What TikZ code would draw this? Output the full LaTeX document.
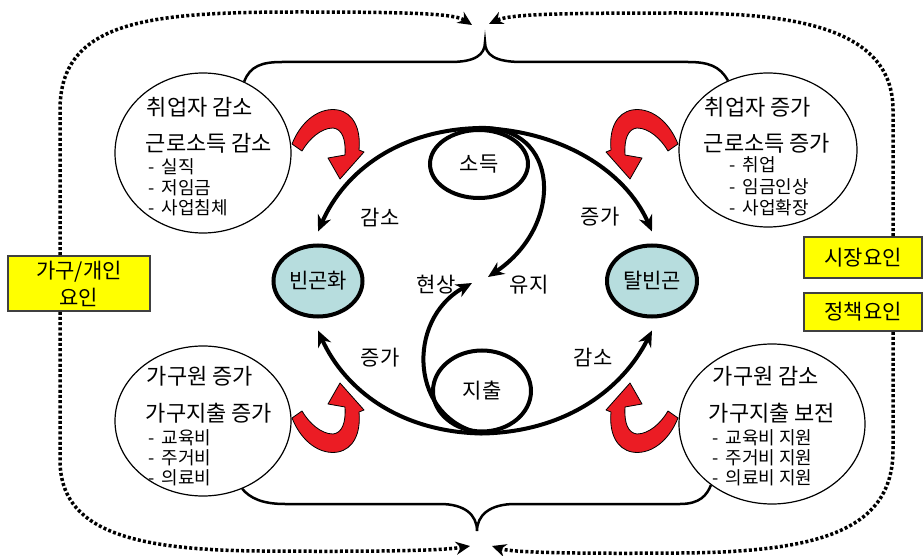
\documentclass[tikz,border=0pt]{standalone}
\usepackage{fontspec}
\usetikzlibrary{arrows.meta,shapes.geometric,calc}
\newfontfamily\kr{Noto Sans CJK KR}
\definecolor{pblue}{RGB}{183,221,222}
\definecolor{hyel}{RGB}{255,255,0}
\definecolor{hred}{RGB}{235,28,36}
\begin{document}
\begin{tikzpicture}[x=1pt,y=-1pt,
  big/.style={ellipse, draw, line width=1.2pt, inner sep=0pt},
  hd/.style={font=\kr\fontsize{22}{24}\selectfont, inner sep=0pt},
  li/.style={font=\kr\fontsize{18}{20}\selectfont, inner sep=0pt, anchor=west},
  lbl/.style={font=\kr\fontsize{21}{24}\selectfont, inner sep=0pt},
  core/.style={ellipse, draw, line width=4pt, inner sep=0pt, font=\kr\fontsize{21}{24}\selectfont},
  state/.style={core, fill=pblue},
  factor/.style={draw=black!75, line width=1.5pt, fill=hyel, font=\kr\fontsize{21}{27}\selectfont, align=center, inner sep=0pt},
  flow/.style={line width=4pt, -{Stealth[length=16pt,width=14pt]}},
  brace/.style={line width=2.5pt},
  dots/.style={line width=3.5pt, dash pattern=on 3pt off 2.2pt, -{Stealth[length=14pt,width=13pt]}},
  redfill/.style={fill=hred, draw=black, line width=0.8pt, line join=round},
]
\useasboundingbox (0,0) rectangle (924,556);
\fill[white] (0,0) rectangle (924,556);

% outer circles
\node[big, minimum width=176pt, minimum height=160pt] (tl) at (203,153) {};
\node[big, minimum width=178pt, minimum height=154pt] (tr) at (768,150) {};
\node[big, minimum width=176pt, minimum height=150pt] (bl) at (203,421) {};
\node[big, minimum width=186pt, minimum height=160pt] (br) at (772,424) {};

% texts top-left
\node[hd] (tl1) at (200,107) {취업자 감소};
\node[hd] (tl2) at (209,143) {근로소득 감소};
\node[li] (tl3) at (148,167) {-\, 실직};
\node[li] (tl4) at (148,188) {-\, 저임금};
\node[li] (tl5) at (148,208) {-\, 사업침체};
% top-right
\node[hd] (tr1) at (758,107) {취업자 증가};
\node[hd] (tr2) at (767,143) {근로소득 증가};
\node[li] (tr3) at (729,165) {-\, 취업};
\node[li] (tr4) at (729,187) {-\, 임금인상};
\node[li] (tr5) at (729,208) {-\, 사업확장};
% bottom-left
\node[hd] (bl1) at (200,376) {가구원 증가};
\node[hd] (bl2) at (209,413) {가구지출 증가};
\node[li] (bl3) at (148,438) {-\, 교육비};
\node[li] (bl4) at (148,458) {-\, 주거비};
\node[li] (bl5) at (148,478) {-\, 의료비};
% bottom-right
\node[hd] (br1) at (766,376) {가구원 감소};
\node[hd] (br2) at (772,413) {가구지출 보전};
\node[li] (br3) at (712,438) {-\, 교육비 지원};
\node[li] (br4) at (712,458) {-\, 주거비 지원};
\node[li] (br5) at (712,478) {-\, 의료비 지원};

% factor boxes
\node[factor, minimum width=142pt, minimum height=55pt] (hb) at (79,283.5) {가구/개인\\요인};
\node[factor, minimum width=118pt, minimum height=41pt] (mk) at (863,257.5) {시장요인};
\node[factor, minimum width=118pt, minimum height=38pt] (pl) at (863,312) {정책요인};

% core
\node[core, minimum width=98pt, minimum height=68pt] (inc) at (479,164) {소득};
\node[core, minimum width=98pt, minimum height=81pt] (exp) at (482,391) {지출};
\node[state, minimum width=89pt, minimum height=71pt] (pov) at (318,281) {빈곤화};
\node[state, minimum width=90pt, minimum height=71pt] (esc) at (652,281) {탈빈곤};
\coordinate (mid) at (480,280);

\draw[flow] (inc.north) .. controls (400,130) and (345,170) .. ([yshift=12pt]pov.north);
\draw[flow] (inc.north) .. controls (560,130) and (625,170) .. ([yshift=12pt]esc.north);
\draw[flow] (inc.north) .. controls (560,125) and (565,225) .. ([xshift=8pt,yshift=3pt]mid);
\draw[flow] (exp.south) .. controls (410,420) and (405,320) .. ([xshift=-8pt,yshift=-3pt]mid);
\draw[flow] (exp.south) .. controls (400,432) and (345,390) .. ([yshift=-12pt]pov.south);
\draw[flow] (exp.south) .. controls (565,432) and (622,390) .. ([yshift=-12pt]esc.south);

\node[lbl] (c1) at (380,217) {감소};
\node[lbl] (c2) at (600,217) {증가};
\node[lbl] (c3) at (436,285) {현상};
\node[lbl] (c4) at (529,285) {유지};
\node[lbl] (c5) at (380,358) {증가};
\node[lbl] (c6) at (593,357) {감소};

% braces
\draw[brace] (tl.60) .. controls (250,66) and (262,62) .. (282,62) -- (450,62)
  .. controls (475,62) and (485,55) .. (485,42) .. controls (485,55) and (495,62) .. (522,62)
  -- (688,62) .. controls (708,62) and (720,66) .. (tr.120);
\draw[brace] (bl.-60) .. controls (250,498) and (262,504) .. (285,504) -- (440,504)
  .. controls (465,504) and (477,515) .. (477,531) .. controls (477,515) and (490,504) .. (515,504)
  -- (680,504) .. controls (700,504) and (707,495) .. (br.-135);

% dotted
\coordinate (tA) at (472,25);
\coordinate (tB) at (489,24);
\coordinate (tC) at (470,546);
\coordinate (tD) at (492,546);
\draw[dots] ([xshift=-19pt]hb.north) -- (60,110) .. controls (60,20) and (150,12) .. (300,12) .. controls (420,12) and (455,14) .. (tA);
\draw[dots] ([xshift=30pt]mk.north) -- (893,110) .. controls (893,30) and (800,13) .. (680,13) .. controls (560,13) and (510,14) .. (tB);
\draw[dots] ([xshift=-19pt]hb.south) -- (60,460) .. controls (60,530) and (130,550) .. (260,551) .. controls (400,552) and (445,550) .. (tC);
\draw[dots] ([xshift=30pt]pl.south) -- (893,450) .. controls (893,530) and (820,552) .. (680,553) .. controls (560,554) and (510,552) .. (tD);

% red hooks
\foreach \sx/\sy/\dx/\dy in {1/1/0/0, -1/1/970/0, 1/-1/0/562, -1/-1/970/562}{
  \begin{scope}[shift={(\dx,\dy)}, xscale=\sx, yscale=\sy]
    \draw[redfill] (292,144) .. controls (302,119) and (321,107) .. (338,110)
      .. controls (353,113) and (361,128) .. (359,150) -- (364,152) -- (340,179) -- (328,158) -- (345,155)
      .. controls (346,139) and (342,129) .. (333,128)
      .. controls (321,128) and (309,139) .. (302,151) -- cycle;
  \end{scope}
}
\end{tikzpicture}
\end{document}
